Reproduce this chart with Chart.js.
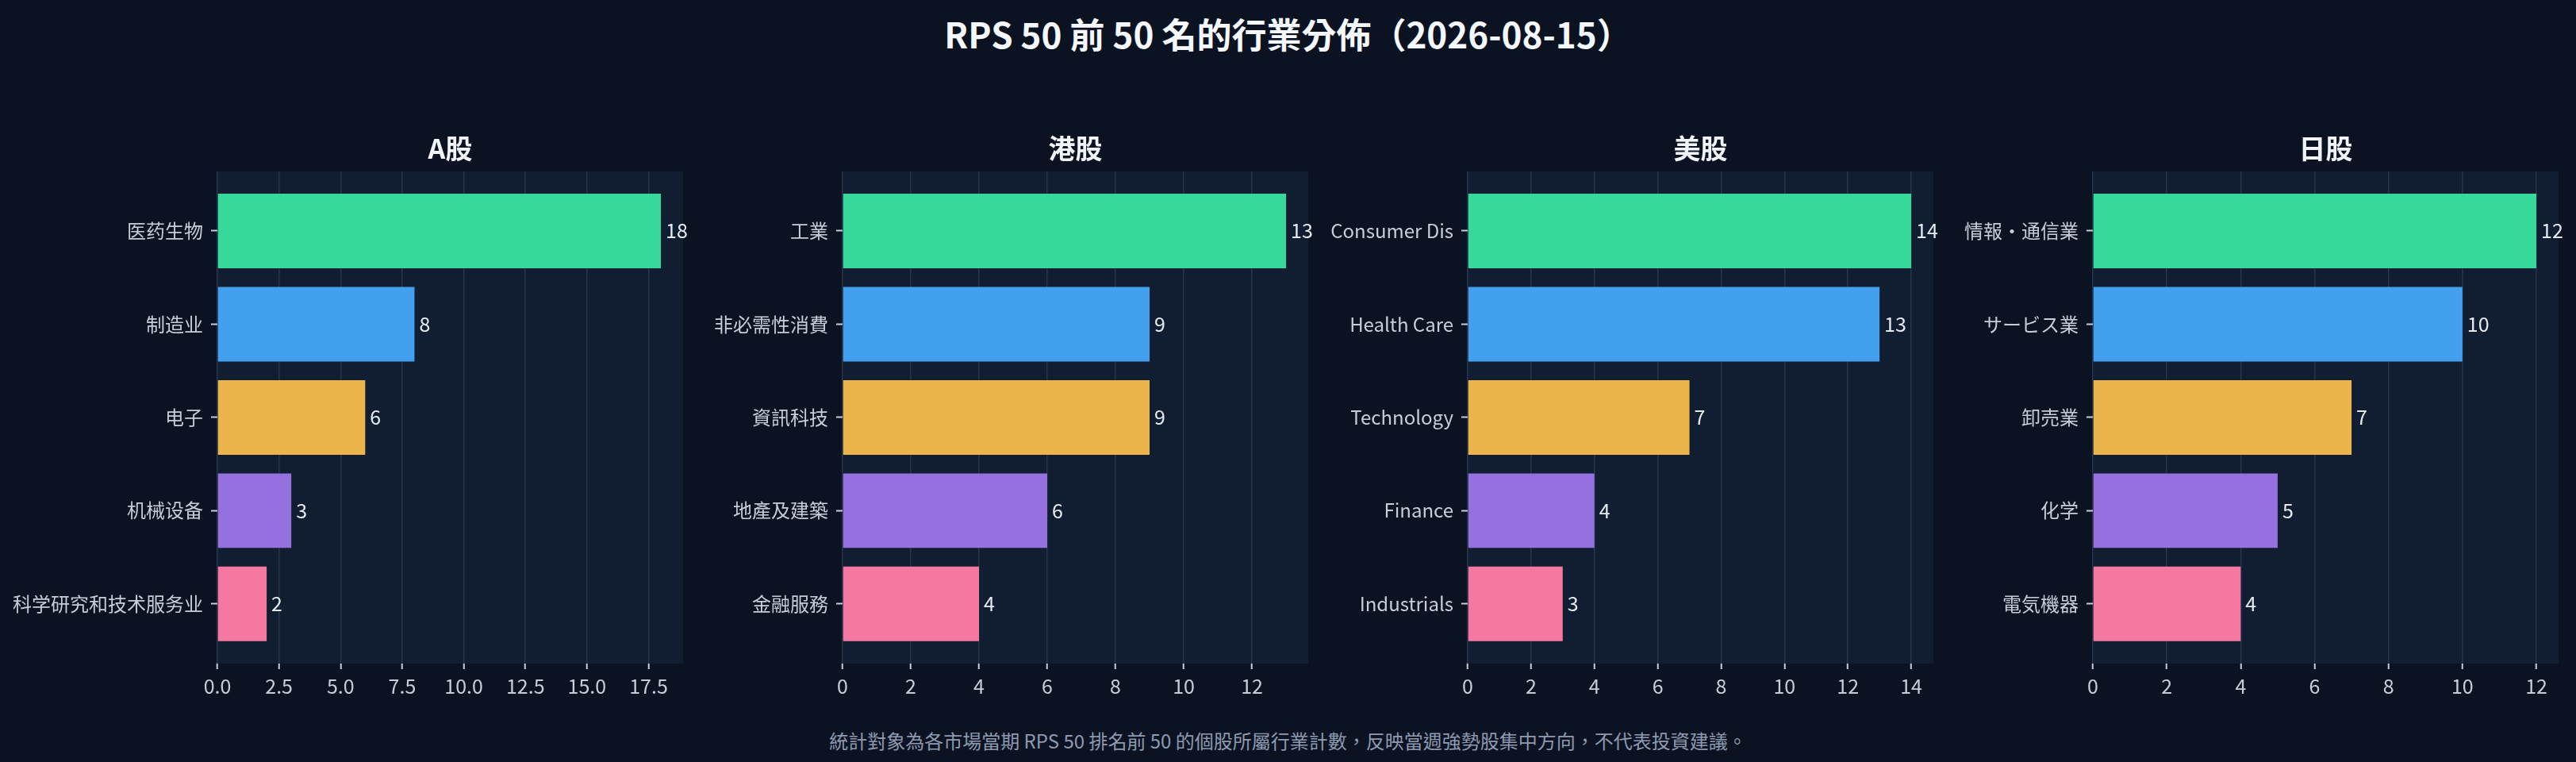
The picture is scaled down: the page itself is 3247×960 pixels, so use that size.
<!DOCTYPE html>
<html>
<head>
<meta charset="utf-8">
<script src="https://cdn.jsdelivr.net/npm/chart.js@4.4.1/dist/chart.umd.min.js"></script>
<style>
  html, body { margin: 0; padding: 0; background: #0b1322; }
  #wrap { position: relative; width: 3247px; height: 960px; background: #0b1322; overflow: hidden; }
  #title { position: absolute; left: 0; top: 10px; width: 3247px; height: 60px; line-height: 60px;
           text-align: center; color: #f4f7fb; font: bold 44px 'Noto Sans CJK TC', 'Noto Sans', sans-serif; }
  #note { position: absolute; left: 0; top: 915px; width: 3247px; height: 36px; line-height: 36px;
          text-align: center; color: #8e9ab0; font: 24px 'Noto Sans CJK TC', 'Noto Sans', sans-serif; }
  canvas { position: absolute; top: 150px; }
</style>
</head>
<body>
<div id="wrap">
  <div id="title">RPS 50 前 50 名的行業分佈（2026-08-15）</div>
  <canvas id="c0" width="881" height="750" style="left:0px"></canvas>
  <canvas id="c1" width="881" height="750" style="left:788px"></canvas>
  <canvas id="c2" width="881" height="750" style="left:1576px"></canvas>
  <canvas id="c3" width="881" height="750" style="left:2364px"></canvas>
  <div id="note">統計對象為各市場當期 RPS 50 排名前 50 的個股所屬行業計數，反映當週強勢股集中方向，不代表投資建議。</div>
</div>
<script>
// market panels
const marketNames = ['A股', '港股', '美股', '日股'];

const aCats = ['医药生物', '制造业', '电子', '机械设备', '科学研究和技术服务业'];
const aVals = [18, 8, 6, 3, 2];

const hkCats = ['工業', '非必需性消費', '資訊科技', '地產及建築', '金融服務'];
const hkVals = [13, 9, 9, 6, 4];

const usCats = ['Consumer Dis', 'Health Care', 'Technology', 'Finance', 'Industrials'];
const usVals = [14, 13, 7, 4, 3];

const jpCats = ['情報・通信業', 'サービス業', '卸売業', '化学', '電気機器'];
const jpVals = [12, 10, 7, 5, 4];

// x tick step and decimals per panel
const xSteps = [2.5, 2, 2, 2];
const xDecimals = [1, 0, 0, 0];

const barColors = ['#37d99b', '#43a0ee', '#ebb54b', '#9571e0', '#f4789f'];

Chart.defaults.font.family = "'Noto Sans CJK SC', 'Noto Sans', sans-serif";

// fill the plot area
const plotBg = {
    id: 'plotBg',
    beforeDraw(chart) {
        const a = chart.chartArea;
        const ctx = chart.ctx;
        ctx.save();
        ctx.fillStyle = '#111d30';
        ctx.fillRect(a.left, a.top, a.right - a.left, a.bottom - a.top);
        ctx.restore();
    }
};

// numbers at bar ends
const valueLabels = {
    id: 'valueLabels',
    afterDatasetsDraw(chart) {
        const ctx = chart.ctx;
        const meta = chart.getDatasetMeta(0);
        const data = chart.data.datasets[0].data;
        ctx.save();
        ctx.font = "25px 'Noto Sans CJK SC', 'Noto Sans', sans-serif";
        ctx.fillStyle = '#e6ebf2';
        ctx.textAlign = 'left';
        ctx.textBaseline = 'middle';
        meta.data.forEach((bar, i) => {
            ctx.fillText(String(data[i].x), bar.x + 6, bar.y);
        });
        ctx.restore();
    }
};

function makePanel(id, name, cats, vals, step, decimals) {
    const n = cats.length;
    const pad = 0.05 * (n - 0.2);
    const xMax = Math.max(...vals) * 1.05;

    new Chart(document.getElementById(id), {
        type: 'bar',
        data: {
            datasets: [{
                data: vals.map((v, i) => ({ x: v, y: i })),
                backgroundColor: barColors,
                borderWidth: 0,
                barPercentage: 0.8,
                categoryPercentage: 1.0
            }]
        },
        options: {
            indexAxis: 'y',
            responsive: false,
            animation: false,
            layout: { padding: { left: 0, right: 20, top: 0, bottom: 0 } },
            plugins: {
                legend: { display: false },
                tooltip: { enabled: false },
                title: {
                    display: true,
                    text: name,
                    fullSize: false,
                    color: '#f1f5fa',
                    font: { size: 34, weight: 'bold' },
                    padding: { top: 17, bottom: 8 }
                }
            },
            scales: {
                x: {
                    type: 'linear',
                    min: 0,
                    max: xMax,
                    offset: false,
                    border: { display: false },
                    grid: {
                        color: '#26354d',
                        lineWidth: 1.5,
                        offset: false,
                        drawTicks: true,
                        tickLength: 7,
                        tickColor: '#c5cedb',
                        tickWidth: 2
                    },
                    ticks: {
                        stepSize: step,
                        includeBounds: false,
                        color: '#c5cedb',
                        font: { size: 25 },
                        padding: 6,
                        maxRotation: 0,
                        callback: (v) => v.toFixed(decimals)
                    },
                    afterFit: (s) => { s.height = 64; }
                },
                y: {
                    type: 'linear',
                    reverse: true,
                    min: -0.4 - pad,
                    max: n - 0.6 + pad,
                    offset: false,
                    border: { display: false },
                    grid: {
                        color: 'rgba(0,0,0,0)',
                        offset: false,
                        drawOnChartArea: false,
                        drawTicks: true,
                        tickLength: 8,
                        tickColor: '#c5cedb',
                        tickWidth: 2
                    },
                    ticks: {
                        color: '#c5cedb',
                        font: { size: 24 },
                        padding: 10,
                        callback: (v) => cats[v]
                    },
                    afterBuildTicks: (s) => { s.ticks = cats.map((c, i) => ({ value: i })); },
                    afterFit: (s) => { s.width = 274; }
                }
            }
        },
        plugins: [plotBg, valueLabels]
    });
}

makePanel('c0', marketNames[0], aCats, aVals, xSteps[0], xDecimals[0]);
makePanel('c1', marketNames[1], hkCats, hkVals, xSteps[1], xDecimals[1]);
makePanel('c2', marketNames[2], usCats, usVals, xSteps[2], xDecimals[2]);
makePanel('c3', marketNames[3], jpCats, jpVals, xSteps[3], xDecimals[3]);
</script>
</body>
</html>
